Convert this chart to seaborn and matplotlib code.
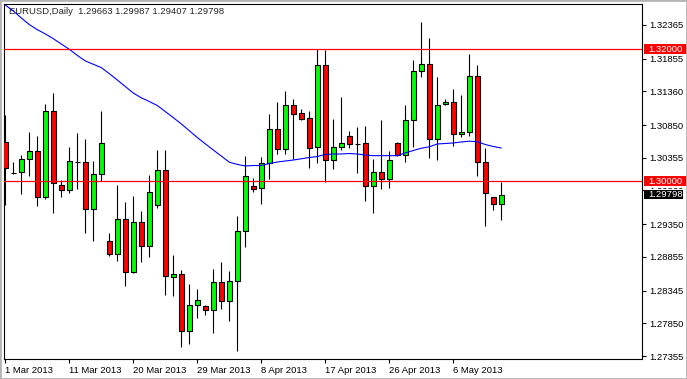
import matplotlib
matplotlib.use('Agg')
import matplotlib.pyplot as plt
import matplotlib.transforms as mtransforms
from matplotlib.patches import Rectangle
import seaborn as sns
import numpy as np
import pandas as pd

# EURUSD daily, 1 Mar 2013 .. 13 May 2013 (incl. Sunday bars)
opens = [1.30589, 1.30132, 1.30135, 1.30332, 1.30458, 1.29766, 1.31059, 1.29939, 1.29863, 1.30296,
         1.30291, 1.29575, 1.30105, 1.29096, 1.28894, 1.29428, 1.28631, 1.29379, 1.29020, 1.29636,
         1.30166, 1.28555, 1.28592, 1.27741, 1.28122, 1.28109, 1.28047, 1.28470, 1.28183, 1.28487,
         1.29242, 1.29925, 1.29893, 1.30272, 1.30786, 1.30492, 1.31149, 1.31028, 1.30953, 1.30511,
         1.31759, 1.30317, 1.30515, 1.30685, 1.30564, 1.30574, 1.29925, 1.30137, 1.30029, 1.30574,
         1.30393, 1.30922, 1.31664, 1.31770, 1.30635, 1.31164, 1.31195, 1.30710, 1.30741, 1.31590,
         1.30296, 1.29761, 1.29663]
highs = [1.31003, 1.30291, 1.30393, 1.30741, 1.30689, 1.31164, 1.31331, 1.30019, 1.30514, 1.30735,
         1.30639, 1.30306, 1.31063, 1.29212, 1.29943, 1.29681, 1.29777, 1.29550, 1.30094, 1.30473,
         1.30473, 1.28879, 1.28657, 1.28440, 1.28366, 1.28130, 1.28672, 1.28775, 1.28637, 1.29474,
         1.30382, 1.30046, 1.30367, 1.31018, 1.31199, 1.31366, 1.31249, 1.31098, 1.31068, 1.31997,
         1.31986, 1.30939, 1.31275, 1.30760, 1.30821, 1.30836, 1.30337, 1.30922, 1.30450, 1.30594,
         1.31154, 1.31835, 1.32407, 1.32163, 1.31573, 1.31245, 1.31391, 1.31305, 1.31926, 1.31759,
         1.30499, 1.29761, 1.29987]
lows = [1.29640, 1.30117, 1.29802, 1.30084, 1.29630, 1.29727, 1.29524, 1.29766, 1.29817, 1.29883,
        1.29221, 1.29100, 1.30008, 1.28873, 1.28797, 1.28419, 1.28616, 1.28782, 1.28858, 1.29600,
        1.28278, 1.28268, 1.27496, 1.27541, 1.27926, 1.27980, 1.27708, 1.28071, 1.27889, 1.27435,
        1.29000, 1.29842, 1.29660, 1.30029, 1.30408, 1.30408, 1.30337, 1.30927, 1.30196, 1.30272,
        1.29993, 1.30188, 1.30480, 1.30508, 1.30129, 1.29705, 1.29524, 1.29878, 1.29893, 1.30382,
        1.30296, 1.30523, 1.31582, 1.30356, 1.30318, 1.31149, 1.30533, 1.30665, 1.30689, 1.30084,
        1.29327, 1.29565, 1.29407]
closes = [1.30196, 1.30132, 1.30332, 1.30458, 1.29766, 1.31059, 1.29969, 1.29863, 1.30306, 1.30296,
          1.29580, 1.30105, 1.30574, 1.28894, 1.29428, 1.28631, 1.29379, 1.29020, 1.29833, 1.30166,
          1.28561, 1.28592, 1.27741, 1.28124, 1.28200, 1.28047, 1.28470, 1.28183, 1.28487, 1.29242,
          1.30076, 1.29890, 1.30272, 1.30786, 1.30492, 1.31149, 1.31013, 1.30947, 1.30508, 1.31759,
          1.30317, 1.30515, 1.30576, 1.30559, 1.30564, 1.29925, 1.30137, 1.30029, 1.30318, 1.30393,
          1.30922, 1.31665, 1.31770, 1.30635, 1.31149, 1.31196, 1.30710, 1.30741, 1.31590, 1.30296,
          1.29827, 1.29651, 1.29798]
# moving average line
ma = [1.32667, 1.32577, 1.32471, 1.32371, 1.32294, 1.32230, 1.32157, 1.32077, 1.31997, 1.31905,
      1.31821, 1.31770, 1.31720, 1.31629, 1.31532, 1.31434, 1.31335, 1.31263, 1.31207, 1.31146,
      1.31055, 1.30963, 1.30868, 1.30765, 1.30662, 1.30567, 1.30473, 1.30382, 1.30288, 1.30255,
      1.30231, 1.30238, 1.30238, 1.30268, 1.30291, 1.30306, 1.30321, 1.30340, 1.30359, 1.30374,
      1.30405, 1.30412, 1.30412, 1.30420, 1.30412, 1.30397, 1.30387, 1.30387, 1.30387, 1.30387,
      1.30427, 1.30465, 1.30499, 1.30521, 1.30564, 1.30571, 1.30579, 1.30594, 1.30606, 1.30598,
      1.30556, 1.30526, 1.30503]

date_labels = ['1 Mar 2013', '11 Mar 2013', '20 Mar 2013', '29 Mar 2013',
               '8 Apr 2013', '17 Apr 2013', '26 Apr 2013', '6 May 2013']
ytick_vals = [1.32365, 1.31855, 1.31360, 1.30850, 1.30355, 1.29860,
              1.29350, 1.28855, 1.28345, 1.27850, 1.27355]
levels = [1.32000, 1.30000]

sns.set_style('white')
plt.rcParams['font.family'] = ['Liberation Sans', 'DejaVu Sans']

df = pd.DataFrame({'i': np.arange(len(opens)), 'o': opens, 'h': highs,
                   'l': lows, 'c': closes, 'ma': ma})

fig = plt.figure(figsize=(6.87, 3.79), dpi=100)
ax = fig.add_axes([4/687, 20/379, 638/687, 355/379])

# candles
ax.vlines(df.i, df.l, df.h, color='black', lw=0.8, zorder=2)
colors = np.where(df.c >= df.o, '#00ff00', '#ff0000')
ax.bar(df.i, (df.c - df.o).abs(), bottom=np.minimum(df.o, df.c), width=0.6,
       color=colors, edgecolor='black', linewidth=0.8, zorder=3)

sns.lineplot(data=df, x='i', y='ma', color='#0000ff', lw=0.8, ax=ax, zorder=4)

for lv in levels:
    ax.axhline(lv, color='#ff0000', lw=0.9, zorder=4)

ax.set_xlim(-0.16, 79.6)
ax.set_ylim(1.27310, 1.32682)
ax.set_xlabel('')
ax.set_ylabel('')

ax.yaxis.tick_right()
ax.set_yticks(ytick_vals)
ax.set_yticklabels([f'{v:.5f}' for v in ytick_vals])
ax.set_xticks(range(0, 8 * len(date_labels), 8))
ax.set_xticklabels(date_labels, ha='left')
ax.tick_params(axis='y', right=True, left=False, direction='out', length=3,
               width=0.8, pad=2, labelsize=6.8, colors='black')
ax.tick_params(axis='x', bottom=True, direction='out', length=3,
               width=0.8, pad=2, labelsize=6.8, colors='black')
for s in ax.spines.values():
    s.set_color('black')
    s.set_linewidth(0.8)

# price labels on the right scale
trans = mtransforms.blended_transform_factory(ax.transAxes, ax.transData)
boxes = [(1.32000, '#ff0000', 43), (1.30000, '#ff0000', 43), (closes[-1], 'black', 39)]
for val, col, w in boxes:
    ax.add_patch(Rectangle((1.0031, val - 0.00072), w / 638, 0.00144, transform=trans,
                           facecolor=col, edgecolor='none', clip_on=False, zorder=5))
    ax.text(1.0 + 6/638, val, f'{val:.5f}', transform=trans, color='white',
            fontsize=6.8, va='center', ha='left', zorder=6, clip_on=False)

# the 1.29860 scale label is mostly hidden behind the price boxes
hidden = ax.yaxis.get_major_ticks()[ytick_vals.index(1.29860)].label2
hidden.set_clip_box(mtransforms.Bbox.from_extents(640, 379 - 189, 687, 379 - 185))
hidden.set_clip_on(True)

ax.text(5/638, 1 - 8/355,
        f'EURUSD,Daily  {opens[-1]:.5f} {highs[-1]:.5f} {lows[-1]:.5f} {closes[-1]:.5f}',
        transform=ax.transAxes, fontsize=6.8, va='center', ha='left')

fig.add_artist(Rectangle((0, 0), 1, 1, transform=fig.transFigure, fill=False,
                         edgecolor='#b4b4b4', lw=2))

fig.savefig('out.png', dpi=100)
